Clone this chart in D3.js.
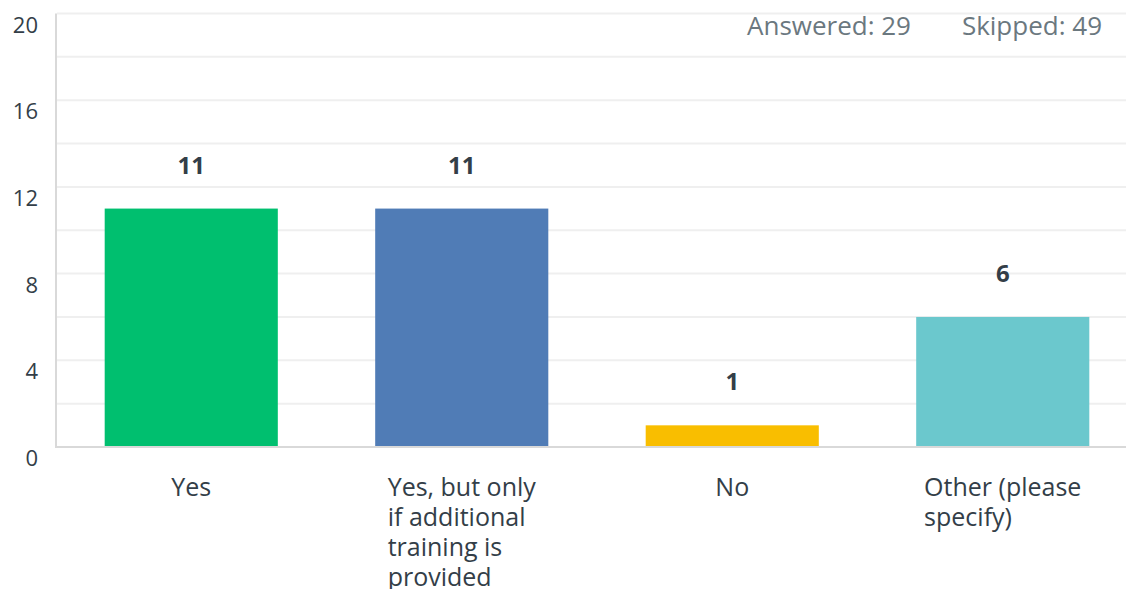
<!DOCTYPE html>
<html><head><meta charset="utf-8">
<script src="https://cdn.jsdelivr.net/npm/d3@7"></script>
<style>
html,body{margin:0;padding:0;background:#fff;}
svg{display:block;font-family:"Open Sans",sans-serif;}
</style></head>
<body><svg id="c" width="1126" height="589"></svg>
<script>
const categories = ["Yes", "Yes, but only if additional training is provided", "No", "Other (please specify)"];
const categoryLines = [["Yes"], ["Yes, but only", "if additional", "training is", "provided"], ["No"], ["Other (please", "specify)"]];
const values = [11, 11, 1, 6];
const colors = ["#00bf6f", "#507cb6", "#f9be00", "#6bc8cd"];
const gridTicks = [0, 2, 4, 6, 8, 10, 12, 14, 16, 18, 20];
const labelTicks = [0, 4, 8, 12, 16, 20];
const answered = 29, skipped = 49;

const svg = d3.select("#c");
const x = d3.scaleBand().domain(categories).range([56, 1138]).paddingInner(0.36).paddingOuter(0.18);
const y = d3.scaleLinear().domain([0, 20]).range([447, 13.5]);

svg.append("g").selectAll("line").data(gridTicks.filter(d => d > 0)).join("line")
  .attr("x1", 57).attr("x2", 1126).attr("y1", d => y(d)).attr("y2", d => y(d))
  .attr("stroke", "#efefef").attr("stroke-width", 2);

svg.append("line").attr("x1", 56).attr("x2", 56).attr("y1", y(20)).attr("y2", y(0) + 1)
  .attr("stroke", "#d9d9d9").attr("stroke-width", 2);

svg.append("g").selectAll("text").data(labelTicks).join("text")
  .attr("x", 38).attr("y", d => y(d) + 19)
  .attr("text-anchor", "end").attr("font-size", 22).attr("fill", "#333e48")
  .text(d => d);

svg.append("g").selectAll("rect").data(values).join("rect")
  .attr("x", (d, i) => x(categories[i])).attr("width", x.bandwidth())
  .attr("y", d => y(d)).attr("height", d => y(0) - y(d))
  .attr("fill", (d, i) => colors[i]);

svg.append("line").attr("x1", 55).attr("x2", 1126).attr("y1", y(0)).attr("y2", y(0))
  .attr("stroke", "#d9d9d9").attr("stroke-width", 2);

svg.append("g").selectAll("text").data(values).join("text")
  .attr("x", (d, i) => x(categories[i]) + x.bandwidth() / 2)
  .attr("y", d => y(d) - 35)
  .attr("text-anchor", "middle").attr("font-size", 24).attr("font-weight", "bold").attr("fill", "#333e48")
  .text(d => d);

categoryLines.forEach((lines, i) => {
  const cx = x(categories[i]) + x.bandwidth() / 2;
  const g = svg.append("g");
  const t = g.append("text").attr("font-size", 25).attr("fill", "#333e48");
  lines.forEach((ln, j) => {
    t.append("tspan").attr("x", 0).attr("y", 496 + j * 30).text(ln);
  });
  let w = 0;
  t.selectAll("tspan").each(function() { w = Math.max(w, this.getComputedTextLength()); });
  g.attr("transform", `translate(${cx - w / 2},0)`);
});

svg.append("text").attr("x", 911).attr("y", 35).attr("text-anchor", "end")
  .attr("font-size", 26).attr("fill", "#6b787f").text("Answered: " + answered);
svg.append("text").attr("x", 1102).attr("y", 35).attr("text-anchor", "end")
  .attr("font-size", 26).attr("fill", "#6b787f").text("Skipped: " + skipped);
</script></body></html>
